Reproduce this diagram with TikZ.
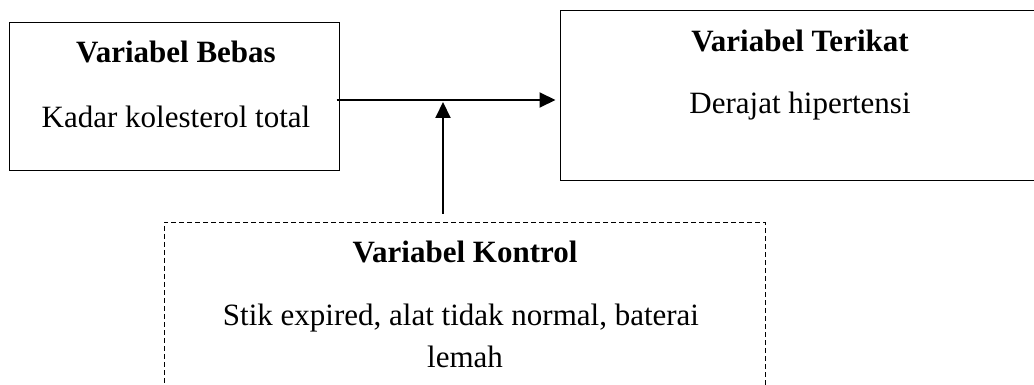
\documentclass[tikz,border=0pt]{standalone}
\usepackage{fontspec}
\setmainfont{Liberation Serif}
\usetikzlibrary{arrows.meta}
\tikzset{
  box/.style={draw=black, line width=1pt, rectangle, inner sep=0pt},
  dashbox/.style={draw=black, line width=1pt, rectangle, inner sep=0pt, dash pattern=on 5pt off 3pt},
  txt/.style={anchor=base, inner sep=0pt, font=\fontsize{31}{37}\selectfont},
  btxt/.style={txt, font=\fontsize{31}{37}\selectfont\bfseries},
  arr/.style={line width=2pt, -{Triangle[length=16pt,width=15pt]}}
}
\begin{document}
\begin{tikzpicture}[x=1pt,y=-1pt]
\clip (0,0) rectangle (1034,385);
\fill[white] (0,0) rectangle (1034,385);
% boxes
\node[box, minimum width=330pt, minimum height=148pt] (bebas) at (174,97) {};
\node[box, minimum width=480pt, minimum height=170pt] (terikat) at (800,96) {};
\node[dashbox, minimum width=601pt, minimum height=178pt] (kontrol) at (464.5,311) {};
% texts
\node[btxt] (tb1) at (176,63) {Variabel Bebas};
\node[txt] (tb2) at (176,128) {Kadar kolesterol total};
\node[btxt] (tt1) at (800,52) {Variabel Terikat};
\node[txt] (tt2) at (800,114) {Derajat hipertensi};
\node[btxt] (tk1) at (465,262) {Variabel Kontrol};
\node[txt] (tk2) at (461,325) {Stik expired, alat tidak normal, baterai};
\node[txt] (tk3) at (465,367) {lemah};
% connectors
\coordinate (hstart) at ([xshift=-3pt]bebas.east |- 0,100);
\coordinate (hend) at ([xshift=-4pt]terikat.west |- 0,100);
\coordinate (vend) at (443,102);
\coordinate (vstart) at ([shift={(-21.5,-8)}]kontrol.north);
\draw[arr] (hstart) -- (hend);
\draw[arr] (vstart) -- (vend);
\end{tikzpicture}
\end{document}
